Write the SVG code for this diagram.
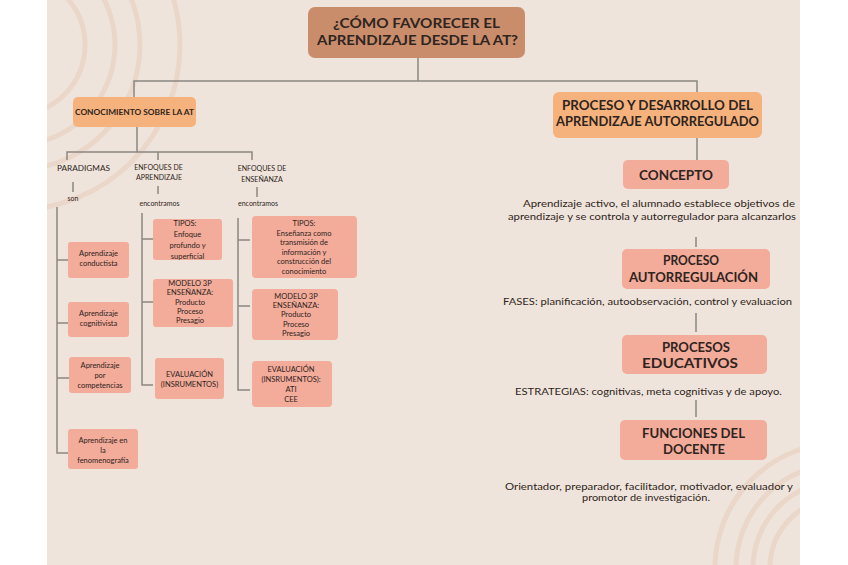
<svg xmlns="http://www.w3.org/2000/svg" width="848" height="565" viewBox="0 0 848 565">
<defs>
<clipPath id="panel"><rect x="47" y="0" width="753" height="565"/></clipPath>
<style>
.bg{fill:#ffffff}
.panel{fill:#EEE4DB}
.deco{fill:none;stroke:#EACFBD;stroke-width:5;opacity:0.6}
.con{fill:none;stroke:#8C8783;stroke-width:1.5}
.title{fill:#C98D6B}
.orange{fill:#F6B27C}
.salmon{fill:#F3AB9A}
text{font-family:Lato,"Liberation Sans",sans-serif;fill:#2E2420}
.h{font-weight:bold;text-anchor:middle}
.lab{font-size:7px;text-anchor:middle}
.bx{font-size:7.5px;text-anchor:middle}
.body{font-size:8.5px;text-anchor:middle}
</style>
</defs>
<rect class="bg" x="0" y="0" width="848" height="565"/>
<rect class="panel" x="47" y="0" width="753" height="565"/>
<g clip-path="url(#panel)">
<circle class="deco" cx="15" cy="45" r="70"/>
<circle class="deco" cx="15" cy="45" r="100"/>
<circle class="deco" cx="15" cy="45" r="125"/>
<circle class="deco" cx="15" cy="45" r="165"/>
<circle class="deco" cx="840" cy="568" r="70"/>
<circle class="deco" cx="840" cy="568" r="87"/>
<circle class="deco" cx="840" cy="568" r="104"/>
<circle class="deco" cx="840" cy="568" r="125"/>
</g>
<g id="connectors">
<path class="con" d="M418 58V81M134 97V81H697V92"/>
<path class="con" d="M137 127V152M67 160V152H252V160M158 152V160"/>
<path class="con" d="M73 182V192M158 186V194M257 187V197"/>
<path class="con" d="M57 207V453H69M57 260H69M57 323H69M57 378H69"/>
<path class="con" d="M142 213V385H153M142 239H153M142 302H153"/>
<path class="con" d="M238 218V390H250M238 240H250M238 306H250"/>
<path class="con" d="M697 138V160M696 237V247M696 313V332M696 400V417"/>
</g>
<g id="title">
<rect class="title" x="308" y="7" width="217" height="51" rx="7"/>
<text class="h" x="416.5" y="28" font-size="13.5" textLength="167" lengthAdjust="spacingAndGlyphs">¿CÓMO FAVORECER EL</text>
<text class="h" x="417.5" y="45" font-size="13.5" textLength="201" lengthAdjust="spacingAndGlyphs">APRENDIZAJE DESDE LA AT?</text>
</g>
<g id="conocimiento">
<rect class="orange" x="73" y="97" width="123" height="30" rx="5"/>
<text class="h" x="134.5" y="114.5" font-size="7" textLength="119" lengthAdjust="spacingAndGlyphs">CONOCIMIENTO SOBRE LA AT</text>
</g>
<g id="paradigmas">
<text class="lab" x="83.5" y="171" textLength="53" lengthAdjust="spacingAndGlyphs">PARADIGMAS</text>
<text class="lab" x="73" y="201">son</text>
</g>
<g id="enfoques-aprendizaje">
<text class="lab" x="158.5" y="170">ENFOQUES DE</text>
<text class="lab" x="159" y="180">APRENDIZAJE</text>
<text class="lab" x="159.5" y="206">encontramos</text>
</g>
<g id="enfoques-ensenanza">
<text class="lab" x="262" y="171">ENFOQUES DE</text>
<text class="lab" x="262" y="182">ENSEÑANZA</text>
<text class="lab" x="258" y="206">encontramos</text>
</g>
<g id="conductista">
<rect class="salmon" x="68" y="242" width="61" height="36" rx="3"/>
<text class="bx" x="98.5" y="256">Aprendizaje</text>
<text class="bx" x="98.5" y="266">conductista</text>
</g>
<g id="cognitivista">
<rect class="salmon" x="68" y="302" width="61" height="35" rx="3"/>
<text class="bx" x="98.5" y="316">Aprendizaje</text>
<text class="bx" x="98.5" y="326">cognitivista</text>
</g>
<g id="competencias">
<rect class="salmon" x="69" y="357" width="62" height="36" rx="3"/>
<text class="bx" x="100" y="368">Aprendizaje</text>
<text class="bx" x="100" y="378">por</text>
<text class="bx" x="100" y="388">competencias</text>
</g>
<g id="fenomenografia">
<rect class="salmon" x="68" y="429" width="70" height="40" rx="3"/>
<text class="bx" x="103" y="443">Aprendizaje en</text>
<text class="bx" x="103" y="453">la</text>
<text class="bx" x="103" y="463">fenomenografía</text>
</g>
<g id="tipos-aprendizaje">
<rect class="salmon" x="153" y="219" width="69" height="41" rx="3"/>
<text class="bx" x="185" y="226">TIPOS:</text>
<text class="bx" x="187.5" y="237">Enfoque</text>
<text class="bx" x="187.5" y="248">profundo y</text>
<text class="bx" x="187.5" y="259">superficial</text>
</g>
<g id="modelo-aprendizaje">
<rect class="salmon" x="153" y="279" width="80" height="48" rx="3"/>
<text class="bx" x="190" y="286">MODELO 3P</text>
<text class="bx" x="190" y="295">ENSEÑANZA:</text>
<text class="bx" x="190" y="305">Producto</text>
<text class="bx" x="190" y="314">Proceso</text>
<text class="bx" x="190" y="323">Presagio</text>
</g>
<g id="evaluacion-aprendizaje">
<rect class="salmon" x="155" y="358" width="69" height="41" rx="3"/>
<text class="bx" x="189.5" y="377">EVALUACIÓN</text>
<text class="bx" x="189.5" y="387">(INSRUMENTOS)</text>
</g>
<g id="tipos-ensenanza">
<rect class="salmon" x="252" y="216" width="105" height="62" rx="4"/>
<text class="bx" x="304" y="226">TIPOS:</text>
<text class="bx" x="304" y="236">Enseñanza como</text>
<text class="bx" x="304" y="245">transmisión de</text>
<text class="bx" x="304" y="255">información y</text>
<text class="bx" x="304" y="264">construcción del</text>
<text class="bx" x="304" y="274">conocimiento</text>
</g>
<g id="modelo-ensenanza">
<rect class="salmon" x="252" y="289" width="86" height="51" rx="4"/>
<text class="bx" x="296" y="299">MODELO 3P</text>
<text class="bx" x="296" y="308">ENSEÑANZA:</text>
<text class="bx" x="296" y="317">Producto</text>
<text class="bx" x="296" y="327">Proceso</text>
<text class="bx" x="296" y="336">Presagio</text>
</g>
<g id="evaluacion-ensenanza">
<rect class="salmon" x="252" y="361" width="80" height="46" rx="4"/>
<text class="bx" x="291" y="372">EVALUACIÓN</text>
<text class="bx" x="291" y="382">(INSRUMENTOS):</text>
<text class="bx" x="291" y="392">ATI</text>
<text class="bx" x="291" y="402">CEE</text>
</g>
<g id="proceso-desarrollo">
<rect class="orange" x="553" y="92" width="209" height="46" rx="6"/>
<text class="h" x="657.5" y="110" font-size="12.5" textLength="191" lengthAdjust="spacingAndGlyphs">PROCESO Y DESARROLLO DEL</text>
<text class="h" x="657.5" y="126" font-size="12.5" textLength="203" lengthAdjust="spacingAndGlyphs">APRENDIZAJE AUTORREGULADO</text>
</g>
<g id="concepto">
<rect class="salmon" x="623" y="160" width="106" height="29" rx="5"/>
<text class="h" x="676" y="180" font-size="13.5" textLength="74" lengthAdjust="spacingAndGlyphs">CONCEPTO</text>
<text class="body" x="659" y="207" textLength="272" lengthAdjust="spacingAndGlyphs">Aprendizaje activo, el alumnado establece objetivos de</text>
<text class="body" x="652" y="220" textLength="288" lengthAdjust="spacingAndGlyphs">aprendizaje y se controla y autorregulador para alcanzarlos</text>
</g>
<g id="proceso-autorregulacion">
<rect class="salmon" x="622" y="249" width="148" height="40" rx="5"/>
<text class="h" x="691" y="265" font-size="13" textLength="56" lengthAdjust="spacingAndGlyphs">PROCESO</text>
<text class="h" x="693.5" y="282" font-size="13" textLength="129" lengthAdjust="spacingAndGlyphs">AUTORREGULACIÓN</text>
<text class="body" x="647.5" y="305" textLength="289" lengthAdjust="spacingAndGlyphs">FASES: planificación, autoobservación, control y evaluacion</text>
</g>
<g id="procesos-educativos">
<rect class="salmon" x="622" y="335" width="145" height="39" rx="5"/>
<text class="h" x="696" y="352" font-size="13" textLength="68" lengthAdjust="spacingAndGlyphs">PROCESOS</text>
<text class="h" x="690" y="368" font-size="13" textLength="96" lengthAdjust="spacingAndGlyphs">EDUCATIVOS</text>
<text class="body" x="648.5" y="395" textLength="267" lengthAdjust="spacingAndGlyphs">ESTRATEGIAS: cognitivas, meta cognitivas y de apoyo.</text>
</g>
<g id="funciones-docente">
<rect class="salmon" x="620" y="420" width="147" height="40" rx="5"/>
<text class="h" x="693.5" y="437.5" font-size="12.5" textLength="103" lengthAdjust="spacingAndGlyphs">FUNCIONES DEL</text>
<text class="h" x="694" y="453.5" font-size="12.5" textLength="62" lengthAdjust="spacingAndGlyphs">DOCENTE</text>
<text class="body" x="649" y="490" textLength="288" lengthAdjust="spacingAndGlyphs">Orientador, preparador, facilitador, motivador, evaluador y</text>
<text class="body" x="646" y="501" textLength="128" lengthAdjust="spacingAndGlyphs">promotor de investigación.</text>
</g>
</svg>
